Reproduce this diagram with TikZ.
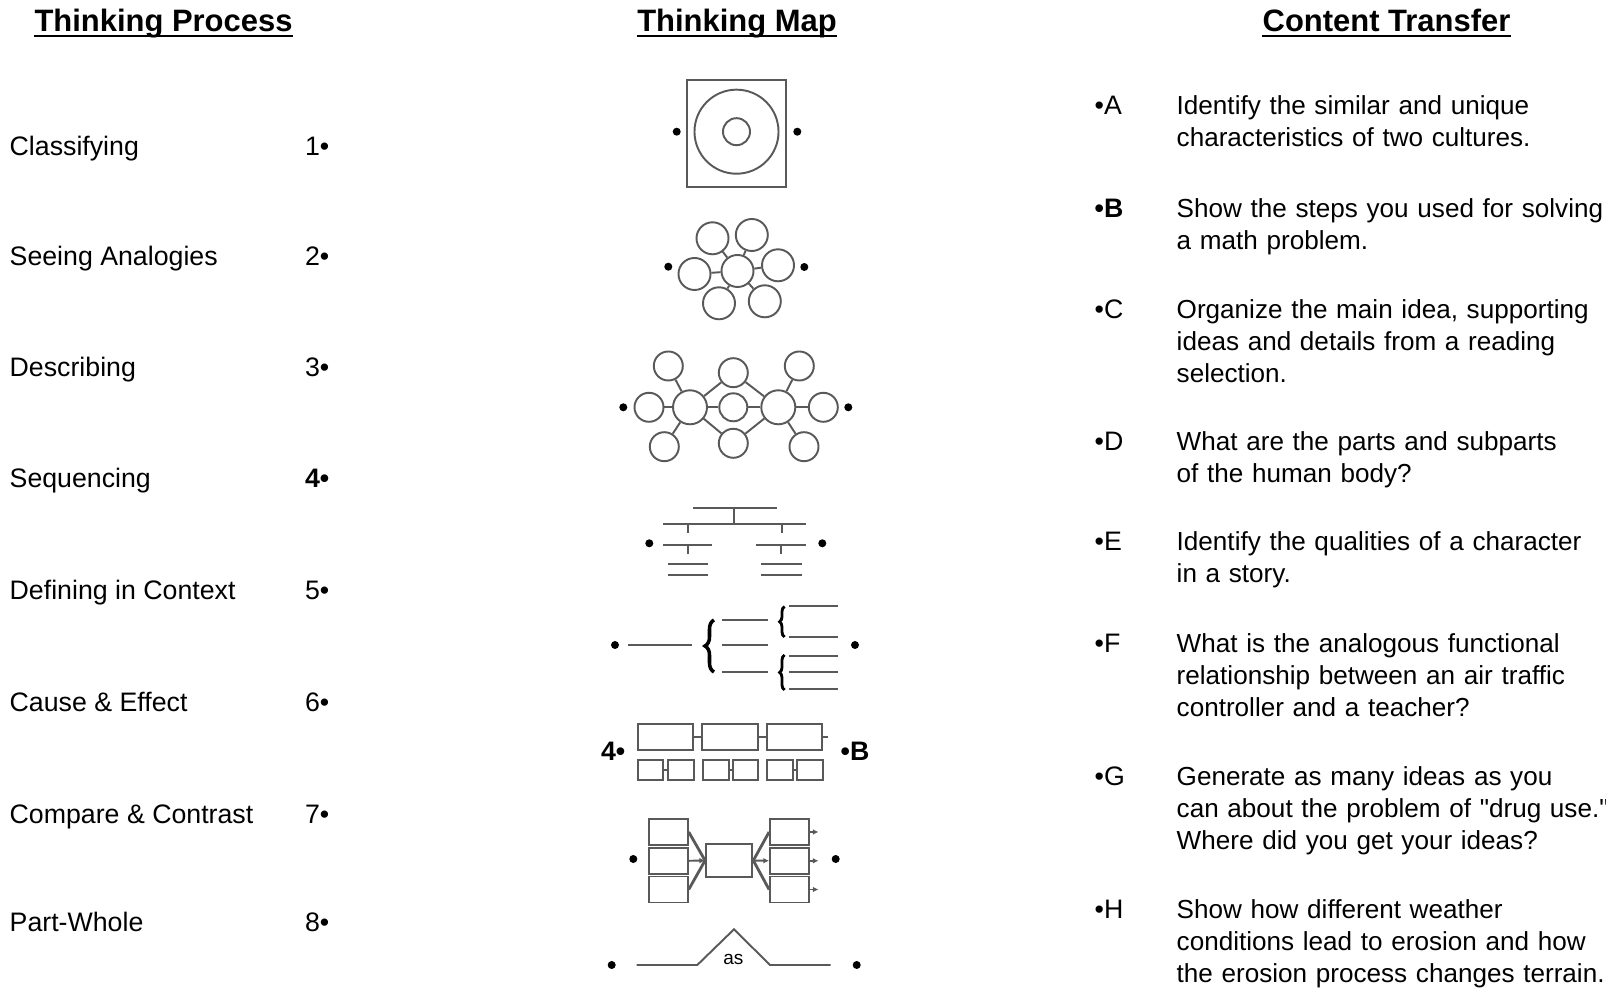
\documentclass[tikz,border=0pt]{standalone}
\usepackage{fontspec}
\setmainfont{Liberation Sans}
\newfontfamily\plainfont{Liberation Sans}
\usepackage{tikz}
\usetikzlibrary{positioning,decorations.pathreplacing,arrows.meta}

\definecolor{mapgray}{gray}{0.35}
\newcommand{\bodyfont}{\fontsize{7.6}{9.03}\selectfont}
\newcommand{\itemfont}{\fontsize{7.42}{9.03}\selectfont}
\newcommand{\headfont}{\fontsize{8.8}{10}\selectfont\bfseries}
\newcommand{\qt}{{\plainfont "}}

\tikzset{
  lbl/.style={inner sep=0pt,font=\bodyfont},
  item/.style={inner sep=0pt,font=\itemfont,text width=4.5cm,align=left},
  head/.style={inner sep=0pt,font=\headfont},
  dot/.style={circle,fill,inner sep=0pt,minimum size=0.08cm},
  mapline/.style={draw=mapgray,line width=0.55pt},
  ring/.style={circle,mapline,inner sep=0pt},
  bub/.style={ring,minimum size=0.32cm},
  sbub/.style={ring,minimum size=0.29cm},
  bbub/.style={ring,minimum size=0.34cm},
  box/.style={rectangle,mapline,inner sep=0pt},
  tip/.style={-{Latex[length=1.6pt,width=1.6pt]}},
}

\begin{document}
\begin{tikzpicture}[x=0.01cm,y=-0.01cm]
\useasboundingbox (0,0) rectangle (1606,989);

% headings
\node[head,anchor=base] (hproc) at (163.5,31.3) {Thinking Process};
\node[head,anchor=base] (hmap) at (737,31.3) {Thinking Map};
\node[head,anchor=base] (htrans) at (1386.5,31.3) {Content Transfer};
\foreach \h in {hproc,hmap,htrans}
  \draw[line width=0.7pt] ([yshift=-1.3pt]\h.base west) -- ([yshift=-1.3pt]\h.base east);

% thinking processes
\foreach \txt/\num/\y [count=\i] in {Classifying/1/155.5, Seeing Analogies/2/266, Describing/3/377,
    Sequencing/\bfseries 4/488, Defining in Context/5/599.5, Cause \& Effect/6/711.5,
    Compare \& Contrast/7/824, Part-Whole/8/932}{
  \node[lbl,anchor=base west] (proc\i) at (9,\y) {\txt};
  \node[lbl,anchor=base east] (num\i) at (330,\y) {\num•};
}

% content transfer
\node[lbl,anchor=base west] (ltrA) at (1094,115) {•A};
\node[item,anchor=base west] (txtA) at (1176,115) {Identify the similar and unique\\characteristics of two cultures.};
\node[lbl,anchor=base west] (ltrB) at (1094,218) {\bfseries •B};
\node[item,anchor=base west] (txtB) at (1176,218) {Show the steps you used for solving\\a math problem.};
\node[lbl,anchor=base west] (ltrC) at (1094,319) {•C};
\node[item,anchor=base west] (txtC) at (1176,319) {Organize the main idea, supporting\\ideas and details from a reading\\selection.};
\node[lbl,anchor=base west] (ltrD) at (1094,451) {•D};
\node[item,anchor=base west] (txtD) at (1176,451) {What are the parts and subparts\\of the human body?};
\node[lbl,anchor=base west] (ltrE) at (1094,551) {•E};
\node[item,anchor=base west] (txtE) at (1176,551) {Identify the qualities of a character\\in a story.};
\node[lbl,anchor=base west] (ltrF) at (1094,652.5) {•F};
\node[item,anchor=base west] (txtF) at (1176,652.5) {What is the analogous functional\\relationship between an air traffic\\controller and a teacher?};
\node[lbl,anchor=base west] (ltrG) at (1094,786) {•G};
\node[item,anchor=base west] (txtG) at (1176,786) {Generate as many ideas as you\\can about the problem of \qt drug use.\qt\\Where did you get your ideas?};
\node[lbl,anchor=base west] (ltrH) at (1094,919) {•H};
\node[item,anchor=base west] (txtH) at (1176,919) {Show how different weather\\conditions lead to erosion and how\\the erosion process changes terrain.};

% map 1: circle map
\node[box,minimum width=0.99cm,minimum height=1.07cm] (cfsq) at (736.5,133.5) {};
\node[ring,minimum size=0.84cm] (cfout) at (736.5,131.7) {};
\node[ring,minimum size=0.27cm] (cfin) at (736.5,131.7) {};
\node[dot] (d1l) at (676.7,131.7) {};
\node[dot] (d1r) at (797.3,131.7) {};

% map 2: bubble map
\node[bub] (an0) at (737.5,271) {};
\node[bub] (an1) at (712.5,238.3) {};
\node[bub] (an2) at (751.8,235) {};
\node[bub] (an3) at (778,265.3) {};
\node[bub] (an4) at (764.8,301.3) {};
\node[bub] (an5) at (719,303.3) {};
\node[bub] (an6) at (694.5,274) {};
\foreach \k in {1,...,6}
  \draw[mapline] (an0) -- (an\k);
\node[dot] (d2l) at (668.3,266.7) {};
\node[dot] (d2r) at (804.3,267) {};

% map 3: double bubble map
\node[bbub] (deL) at (690,407.3) {};
\node[bbub] (deR) at (778.3,407.3) {};
\node[ring,minimum size=0.28cm] (deM) at (733.3,407.3) {};
\node[sbub] (deTM) at (733.3,372.7) {};
\node[sbub] (deBM) at (733.3,443.3) {};
\node[sbub] (deLL) at (649,407.3) {};
\node[sbub] (deTL) at (668.3,366) {};
\node[sbub] (deBL) at (664.3,446.7) {};
\node[sbub] (deRR) at (823.3,407.3) {};
\node[sbub] (deTR) at (799.3,366) {};
\node[sbub] (deBR) at (804,446.7) {};
\foreach \k in {LL,TL,BL,TM,M,BM}
  \draw[mapline] (deL) -- (de\k);
\foreach \k in {RR,TR,BR,TM,M,BM}
  \draw[mapline] (deR) -- (de\k);
\node[dot] (d3l) at (623.3,407.3) {};
\node[dot] (d3r) at (848.3,407.3) {};

% map 4: tree map
\draw[mapline] (692.7,508.3) -- (776.7,508.3);
\draw[mapline] (734.3,508.3) -- (734.3,524.3);
\draw[mapline] (663.3,524.3) -- (806,524.3);
\draw[mapline] (688.3,524.3) -- (688.3,533.3);
\draw[mapline] (781.7,524.3) -- (781.7,533.3);
\draw[mapline] (663.3,545) -- (712.3,545);
\draw[mapline] (756,545) -- (806,545);
\draw[mapline] (688.3,545) -- (688.3,554);
\draw[mapline] (781,545) -- (781,554);
\foreach \y in {564,575}{
  \draw[mapline] (668.3,\y) -- (708.3,\y);
  \draw[mapline] (761,\y) -- (802.3,\y);
}
\node[dot] (d4l) at (649.3,543.3) {};
\node[dot] (d4r) at (822.3,543.3) {};

% map 5: brace map
\node[dot] (d5l) at (615,645) {};
\node[dot] (d5r) at (855,645) {};
\draw[mapline] (628.3,645) -- (691.7,645);
\draw[line width=1pt,decorate,decoration={brace,amplitude=0.09cm}] (714,672) -- (714,620);
\foreach \y in {620,645,671.7}
  \draw[mapline] (721.7,\y) -- (768.3,\y);
\draw[line width=0.8pt,decorate,decoration={brace,amplitude=0.05cm}] (784.5,637) -- (784.5,606.5);
\draw[line width=0.8pt,decorate,decoration={brace,amplitude=0.05cm}] (784.5,690) -- (784.5,655);
\foreach \y in {606,636.7,655.7,671.7,689.3}
  \draw[mapline] (789.3,\y) -- (838.3,\y);

% map 6: flow map
\node[lbl,anchor=east,font=\bodyfont\bfseries] (sq4) at (626,751.5) {4•};
\node[lbl,anchor=west,font=\bodyfont\bfseries] (sqB) at (840,751.5) {•B};
\node[box,minimum width=0.556cm,minimum height=0.257cm] (fl1) at (665.5,737.2) {};
\node[box,minimum width=0.556cm,minimum height=0.257cm] (fl2) at (730,737.2) {};
\node[box,minimum width=0.556cm,minimum height=0.257cm] (fl3) at (794.5,737.2) {};
\draw[mapline] (fl1) -- (fl2);
\draw[mapline] (fl2) -- (fl3);
\coordinate (flend) at (828.3,737.2);
\draw[mapline] (fl3) -- (flend);
\foreach \x [count=\k] in {650.5,680.8,715.8,745.5,780,809.8}
  \node[box,minimum width=0.255cm,minimum height=0.2cm] (fs\k) at (\x,770) {};
\draw[mapline] (fs1) -- (fs2);
\draw[mapline] (fs3) -- (fs4);
\draw[mapline] (fs5) -- (fs6);

% map 7: multi-flow map
\node[dot] (d7l) at (633.3,859) {};
\node[dot] (d7r) at (835.7,859) {};
\node[box,minimum width=0.463cm,minimum height=0.324cm] (ev) at (729.2,860.5) {};
\foreach \y [count=\k] in {832,860.8,889.5}{
  \node[box,minimum width=0.387cm,minimum height=0.26cm] (cau\k) at (668.4,\y) {};
  \node[box,minimum width=0.393cm,minimum height=0.26cm] (eff\k) at (789.7,\y) {};
  \coordinate (out\k) at (818.5,\y);
  \draw[mapline,tip] (eff\k.east) -- (out\k);
}
\draw[mapline,line width=0.8pt] (cau1.east) -- (ev.west);
\draw[mapline,tip] (cau2.east) -- (ev.west);
\draw[mapline,line width=0.8pt] (cau3.east) -- (ev.west);
\draw[mapline,line width=0.8pt] (ev.east) -- (eff1.west);
\draw[mapline,tip] (ev.east) -- (eff2.west);
\draw[mapline,line width=0.8pt] (ev.east) -- (eff3.west);

% map 8: bridge map
\node[dot] (d8l) at (611.7,965) {};
\node[dot] (d8r) at (856.7,965) {};
\coordinate (brA) at (636.7,965);
\coordinate (brB) at (697.3,965);
\coordinate (brT) at (734,929.3);
\coordinate (brC) at (770,965);
\coordinate (brD) at (830.7,965);
\draw[mapline] (brA) -- (brB) -- (brT) -- (brC) -- (brD);
\node[inner sep=0pt,font=\fontsize{5.4}{6}\selectfont,anchor=base] (as) at (733.3,965) {as};
\end{tikzpicture}
\end{document}
